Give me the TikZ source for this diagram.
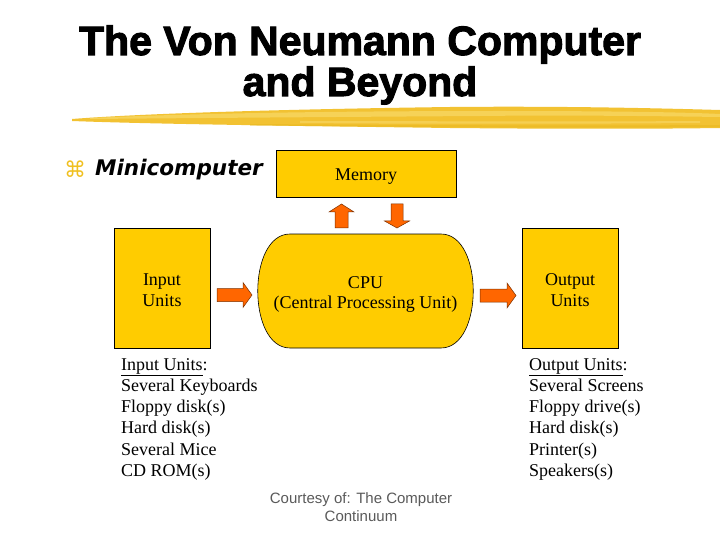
\documentclass[tikz,border=0pt]{standalone}
\usepackage{fontspec}
\setmainfont{Liberation Serif}
\newfontfamily\arialf{Liberation Sans}
\newfontfamily\titlef[FakeBold=2.5]{Liberation Sans Bold}
\newfontfamily\dejavu{DejaVu Sans}
\usetikzlibrary{calc}
\definecolor{boxgold}{HTML}{FFCC00}
\definecolor{arroworange}{HTML}{FF6600}
\definecolor{arrowedge}{HTML}{7A3000}
\definecolor{brushA}{HTML}{F2C232}
\definecolor{brushB}{HTML}{F8D968}
\definecolor{brushC}{HTML}{E8B820}
\definecolor{bulletyellow}{HTML}{F0C020}
\definecolor{courtgray}{HTML}{5A5A5A}
\begin{document}
\begin{tikzpicture}[x=1pt,y=-1pt,
  box/.style={draw=black, line width=0.6pt, fill=boxgold, inner sep=0pt},
  boxtxt/.style={inner sep=0pt, align=center, font=\fontsize{18}{20.5}\selectfont},
  fatarrow/.style={draw=arrowedge, line width=0.5pt, fill=arroworange, line join=miter},
  listtxt/.style={anchor=base west, inner sep=0pt, font=\fontsize{18}{21}\selectfont},
]
\useasboundingbox (0,0) rectangle (720,540);
\fill[white] (0,0) rectangle (720,540);

% title
\node[anchor=base, inner sep=0pt, font=\titlef\fontsize{41}{42}\selectfont] (t1) at (360,55) {The Von Neumann Computer};
\node[anchor=base, inner sep=0pt, font=\titlef\fontsize{41}{42}\selectfont] (t2) at (360,96) {and Beyond};

% brush stroke
\fill[brushA] (72,119) .. controls (150,113) and (300,109) .. (450,107)
  .. controls (560,106) and (650,108) .. (720,110) -- (720,128)
  .. controls (650,129) and (560,129) .. (450,128)
  .. controls (300,126) and (150,124) .. (72,121) -- cycle;
\fill[brushB, opacity=0.7] (90,118) .. controls (200,113) and (350,111) .. (500,111)
  .. controls (600,111) and (680,112) .. (720,114) -- (720,117)
  .. controls (650,116) and (560,115) .. (480,116)
  .. controls (330,117) and (200,118) .. (90,119) -- cycle;
\fill[brushB, opacity=0.6] (300,121) .. controls (420,121) and (560,122) .. (700,121)
  -- (700,123) .. controls (560,124) and (420,124) .. (300,123) -- cycle;
\fill[brushC, opacity=0.6] (250,124) .. controls (400,125) and (560,126) .. (720,125)
  -- (720,127) .. controls (560,128) and (400,127) .. (250,125.5) -- cycle;

% bullet line
\node[inner sep=0pt, text=bulletyellow, font=\dejavu\fontsize{22}{22}\selectfont] (bul) at (75,169) {⌘};
\node[anchor=west, inner sep=0pt, font=\dejavu\bfseries\itshape\fontsize{21.5}{22}\selectfont] (mini) at (95,169.5) {Minicomputer};

% boxes
\node[box, minimum width=180pt, minimum height=47pt] (mem) at (366,174) {};
\node[boxtxt] (memt) at ($(mem.center)+(0,2.5)$) {Memory};
\node[box, minimum width=96pt, minimum height=120pt] (inp) at (162,288) {};
\node[boxtxt] (inpt) at ($(inp.center)+(0,2)$) {Input\\Units};
\node[box, minimum width=96pt, minimum height=120pt] (outp) at (570,288) {};
\node[boxtxt] (outpt) at ($(outp.center)+(0,2)$) {Output\\Units};

% CPU
\fill[boxgold, draw=black, line width=0.6pt] (290,234) -- (441,234)
  .. controls (484,234) and (484,348) .. (441,348) -- (290,348)
  .. controls (247,348) and (247,234) .. (290,234) -- cycle;
\coordinate (cpu) at (365.5,291);
\node[boxtxt] (cput) at ($(cpu)+(0,3.5)$) {CPU\\(Central Processing Unit)};

% fat arrow anchors
\coordinate (a1) at (234.5,295);
\coordinate (a2) at (498,295.5);
\coordinate (a3) at (341.5,216);
\coordinate (a4) at (397,216);
\draw[fatarrow, shift={(a1)}] (-17.5,-6.5) -- (8.5,-6.5) -- (8.5,-12.5) -- (17.5,0)
  -- (8.5,12.5) -- (8.5,6.5) -- (-17.5,6.5) -- cycle;
\draw[fatarrow, shift={(a2)}] (-18,-6.5) -- (9,-6.5) -- (9,-12.5) -- (18,0)
  -- (9,12.5) -- (9,6.5) -- (-18,6.5) -- cycle;
\draw[fatarrow, shift={(a3)}] (-6.5,12) -- (-6.5,-4) -- (-12.5,-4) -- (0,-12)
  -- (12.5,-4) -- (6.5,-4) -- (6.5,12) -- cycle;
\draw[fatarrow, shift={(a4)}] (-6,-12) -- (-6,5) -- (-12.5,5) -- (0,12)
  -- (12.5,5) -- (6,5) -- (6,-12) -- cycle;

% lists
\foreach \t [count=\i from 0] in {{\underline{Input Units}:},Several Keyboards,Floppy disk(s),Hard disk(s),Several Mice,CD ROM(s)}
  \node[listtxt] (in\i) at (121,370+21.3*\i) {\t};
\foreach \t [count=\i from 0] in {{\underline{Output Units}:},Several Screens,Floppy drive(s),Hard disk(s),Printer(s),Speakers(s)}
  \node[listtxt] (out\i) at (529,370+21.3*\i) {\t};

% courtesy
\node[inner sep=0pt, align=center, text=courtgray, font=\arialf\fontsize{15}{18}\selectfont] (court) at (361,507) {Courtesy of: The Computer\\Continuum};
\end{tikzpicture}
\end{document}
